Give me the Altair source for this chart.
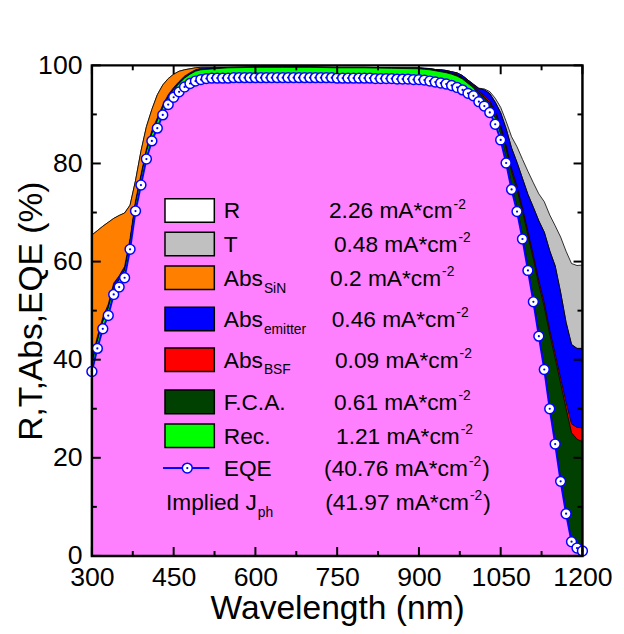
import altair as alt
import pandas as pd

W, H = 497, 497
FONT = "Liberation Sans"

# ---------------- data ----------------
# EQE every 10 nm, 300..1200 nm (%)
wl_eqe = list(range(300, 1201, 10))
eqe = [37.6, 42.3, 46.3, 49.0, 53.3, 54.8, 56.7, 62.5, 70.3, 75.6,
       80.9, 84.6, 87.2, 89.9, 92.0, 93.5, 94.6, 95.6, 96.3, 96.8,
       97.1, 97.3, 97.4, 97.4, 97.4, 97.4, 97.5, 97.5, 97.5, 97.5,
       97.5, 97.5, 97.5, 97.5, 97.5, 97.5, 97.5, 97.5, 97.5, 97.5,
       97.5, 97.5, 97.5, 97.5, 97.5, 97.4, 97.4, 97.4, 97.4, 97.4,
       97.4, 97.4, 97.3, 97.3, 97.3, 97.3, 97.2, 97.2, 97.2, 97.1,
       97.1, 97.0, 96.8, 96.6, 96.4, 96.2, 95.9, 95.5, 95.0, 94.3,
       93.8, 92.6, 91.7, 90.4, 88.0, 84.8, 80.1, 74.7, 70.2, 64.6,
       58.2, 51.8, 44.8, 38.0, 30.0, 22.8, 15.2, 8.6, 2.9, 1.6,
       1.0]

# wavelength grid for the loss components (nm)
wl = list(range(300, 501, 10)) + [550, 600, 650, 700, 750, 800, 850] + list(range(900, 1201, 10))

# loss components (%), stacked on top of EQE in this order
rec = [1.5] * 15 + [1.6, 1.7, 1.8, 1.9, 2.0, 2.0] + [2.1] * 7 + \
      [2.2, 2.2, 2.3, 2.3, 2.3, 2.3, 2.3, 2.3, 2.2, 2.0,
       1.6, 1.4, 1.3, 1.3, 1.2, 1.1, 1.0, 0.9, 0.9, 0.8,
       0.8, 0.7, 0.7, 0.6, 0.6, 0.6, 0.5, 0.5, 0.4, 0.4, 0.3]
fca = [0.0] * 28 + \
      [0.0, 0.0, 0.05, 0.05, 0.1, 0.1, 0.15, 0.2, 0.2, 0.25,
       0.3, 0.4, 0.5, 0.7, 1.0, 1.4, 2.0, 2.8, 3.6, 4.9,
       6.4, 8.0, 9.8, 12.2, 14.6, 16.9, 19.5, 21.0, 21.8, 21.8, 22.0]
bsf = [0.0] * 28 + \
      [0.0, 0.0, 0.0, 0.0, 0.05, 0.05, 0.05, 0.1, 0.1, 0.15,
       0.2, 0.25, 0.3, 0.35, 0.4, 0.45, 0.5, 0.55, 0.6, 0.65,
       0.7, 0.75, 0.8, 0.8, 0.8, 0.9, 1.0, 1.2, 1.8, 2.4, 2.8]
emitter = [1.0, 0.9, 0.8, 0.8, 0.8, 0.8, 0.8, 0.7, 0.6, 0.6, 0.6, 0.6, 0.6, 0.5, 0.5,
           0.4, 0.4, 0.4, 0.3, 0.3, 0.3] + [0.1] * 7 + \
          [0.2, 0.2, 0.2, 0.2, 0.25, 0.3, 0.3, 0.35, 0.4, 0.3,
           0.2, 0.6, 1.2, 1.5, 1.9, 2.6, 3.5, 4.2, 4.9, 6.0,
           7.6, 9.8, 12.2, 14.4, 16.2, 17.9, 17.5, 16.3, 16.2, 16.1, 16.2]
sin = [25.3, 21.6, 18.6, 16.7, 13.2, 12.3, 10.9, 6.8, 4.1, 4.8, 4.5, 4.3, 4.7, 4.1, 3.3,
       2.7, 2.1, 1.3, 0.8, 0.4, 0.2] + [0.0] * 38
trans = [0.0] * 38 + \
        [0.1, 0.1, 0.2, 0.4, 0.8, 1.1, 1.5, 2.3, 3.2, 3.9,
         4.7, 5.0, 5.5, 6.2, 7.3, 8.2, 11.3, 14.5, 16.5, 16.9, 17.0]

# legend
leg_names = ["R", "T", "Abs", "Abs", "Abs", "F.C.A.", "Rec.", "EQE", "Implied J"]
leg_subs = ["", "", "SiN", "emitter", "BSF", "", "", "", "ph"]
leg_values = ["2.26 mA*cm", "0.48 mA*cm", "0.2 mA*cm", "0.46 mA*cm", "0.09 mA*cm",
              "0.61 mA*cm", "1.21 mA*cm", "(40.76 mA*cm", "(41.97 mA*cm"]
leg_close = ["", "", "", "", "", "", "", ")", ")"]
leg_fill = ["#FFFFFF", "#C0C0C0", "#FF8000", "#0000FF", "#FF0000", "#004000", "#00FF00", None, None]
leg_y = [70.4, 63.6, 56.7, 48.3, 40.0, 31.4, 24.5, 17.9, 10.9]
leg_value_x = [735, 744, 737, 740, 746, 744, 748, 726, 728]

# ---------------- build tables ----------------
eqe_map = dict(zip(wl_eqe, eqe))
df = pd.DataFrame({"wl": wl})
df["c0"] = [eqe_map[w] for w in wl]
df["c1"] = df["c0"] + rec
df["c2"] = df["c1"] + fca
df["c3"] = df["c2"] + bsf
df["c4"] = df["c3"] + emitter
df["c5"] = df["c4"] + sin
df["c6"] = df["c5"] + trans
df_eqe = pd.DataFrame({"wl": wl_eqe, "eqe": eqe})

xs = alt.Scale(domain=[300, 1200], nice=False, zero=False)
ys = alt.Scale(domain=[0, 100], nice=False, zero=False)

x_axis = alt.Axis(values=list(range(300, 1201, 150)), title="Wavelength (nm)", grid=False,
                  domain=False, ticks=False, labelPadding=9, labelFlush=False, labelOverlap=False,
                  titleX=W / 2, titleY=63, titleBaseline="alphabetic", titleAlign="center", format="d")
y_axis = alt.Axis(values=list(range(0, 101, 20)), title="R,T,Abs,EQE (%)", grid=False,
                  domain=False, ticks=False, labelPadding=10, labelFlush=False, labelOverlap=False,
                  titleX=-51, titleY=H / 2, titleBaseline="alphabetic", titleAlign="center", format="d")


def X(field):
    return alt.X(field, scale=xs, axis=x_axis)


def Y(field):
    return alt.Y(field, scale=ys, axis=y_axis)


layers = []
area_specs = [("c6", "#C0C0C0"), ("c5", "#FF8000"), ("c4", "#0000FF"), ("c3", "#FF0000"),
              ("c2", "#004000"), ("c1", "#00FF00")]
for col, colr in area_specs:
    layers.append(alt.Chart(df).mark_area(fill=colr, stroke="black", strokeWidth=0.8, opacity=1).encode(
        x=X("wl:Q"), y=Y(f"{col}:Q")))
layers.append(alt.Chart(df).mark_area(fill="#FF80FF", opacity=1).encode(x=X("wl:Q"), y=Y("c0:Q")))

# EQE line + markers
layers.append(alt.Chart(df_eqe).mark_line(color="#0000FF", strokeWidth=2).encode(x=X("wl:Q"), y=Y("eqe:Q")))
layers.append(alt.Chart(df_eqe).mark_point(shape="circle", filled=True, fill="white", stroke="#0000FF",
                                           strokeWidth=1.5, size=100, opacity=1).encode(x=X("wl:Q"), y=Y("eqe:Q")))
layers.append(alt.Chart(df_eqe).mark_point(shape="circle", filled=True, color="#0000FF", size=5,
                                           opacity=1).encode(x=X("wl:Q"), y=Y("eqe:Q")))

# ---------------- legend ----------------
AW = {'.': .278, ' ': .278, 'm': .833, 'A': .667, '*': .389, 'c': .5, '(': .333, ')': .333,
      '-': .333, 'b': .556, 's': .5, 'I': .278, 'p': .556, 'l': .222, 'i': .222, 'e': .556,
      'd': .556, 'J': .5}


def tw(s, fs):
    return sum(AW.get(ch, 0.556) for ch in s) * fs


def px2nm(p):
    return p * 900.0 / W


FS, FSS = 23, 14
SW_X1, SW_X2, NAME_X, IMPL_X = 434.1, 524.6, 542.0, 436.0
main_rows, sub_rows, sup_rows, sw_rows = [], [], [], []
for i in range(len(leg_names)):
    y = leg_y[i]
    nx = IMPL_X if leg_names[i].startswith("Implied") else NAME_X
    main_rows.append({"x": nx, "y": y, "t": leg_names[i]})
    if leg_subs[i]:
        sub_rows.append({"x": nx + px2nm(tw(leg_names[i], FS) + 1), "y": y, "t": leg_subs[i]})
    vx = leg_value_x[i]
    main_rows.append({"x": vx, "y": y, "t": leg_values[i]})
    sx = vx + px2nm(tw(leg_values[i], FS) + 1)
    sup_rows.append({"x": sx, "y": y, "t": "-2"})
    if leg_close[i]:
        main_rows.append({"x": sx + px2nm(tw("-2", FSS) + 1), "y": y, "t": leg_close[i]})
    if leg_fill[i]:
        sw_rows.append({"x": SW_X1, "x2": SW_X2, "y": y + 2.4, "y2": y - 2.4, "f": leg_fill[i]})

layers.append(alt.Chart(pd.DataFrame(sw_rows)).mark_rect(stroke="black", strokeWidth=1.5, opacity=1).encode(
    x=X("x:Q"), x2="x2:Q", y=Y("y:Q"), y2="y2:Q", fill=alt.Fill("f:N", scale=None)))

eqe_leg_line = pd.DataFrame({"x": [430.4, 515.5], "y": [leg_y[7], leg_y[7]]})
eqe_leg_pt = pd.DataFrame({"x": [475.0], "y": [leg_y[7]]})
layers.append(alt.Chart(eqe_leg_line).mark_line(color="#0000FF", strokeWidth=2).encode(x=X("x:Q"), y=Y("y:Q")))
layers.append(alt.Chart(eqe_leg_pt).mark_point(shape="circle", filled=True, fill="white", stroke="#0000FF",
                                               strokeWidth=1.5, size=100, opacity=1).encode(x=X("x:Q"), y=Y("y:Q")))
layers.append(alt.Chart(eqe_leg_pt).mark_point(shape="circle", filled=True, color="#0000FF", size=5,
                                               opacity=1).encode(x=X("x:Q"), y=Y("y:Q")))

for rows, fs, dy in [(main_rows, FS, 8), (sub_rows, FSS, 15), (sup_rows, FSS, -2)]:
    layers.append(alt.Chart(pd.DataFrame(rows)).mark_text(
        align="left", baseline="alphabetic", font=FONT, fontSize=fs, dy=dy, color="black").encode(
        x=X("x:Q"), y=Y("y:Q"), text="t:N"))

# ---------------- inward ticks and frame ----------------
xt_major = pd.DataFrame({"v": list(range(300, 1201, 150))})
xt_minor = pd.DataFrame({"v": list(range(375, 1200, 150))})
yt_major = pd.DataFrame({"v": list(range(0, 101, 20))})
yt_minor = pd.DataFrame({"v": list(range(10, 100, 20))})
for d, ln in [(xt_major, 9), (xt_minor, 5)]:
    for y0, y1 in [(H, H - ln), (0, ln)]:
        layers.append(alt.Chart(d).mark_rule(color="black", strokeWidth=2).encode(
            x=X("v:Q"), y=alt.value(y0), y2=alt.value(y1)))
for d, ln in [(yt_major, 9), (yt_minor, 5)]:
    for x0, x1 in [(0, ln), (W, W - ln)]:
        layers.append(alt.Chart(d).mark_rule(color="black", strokeWidth=2).encode(
            y=Y("v:Q"), x=alt.value(x0), x2=alt.value(x1)))
layers.append(alt.Chart(pd.DataFrame({"a": [0]})).mark_rect(
    fillOpacity=0, stroke="black", strokeWidth=2.5).encode(
    x=alt.value(0), x2=alt.value(W), y=alt.value(0), y2=alt.value(H)))

chart = alt.layer(*layers).properties(
    width=W, height=H,
    padding={"left": 85, "top": 54, "right": 34, "bottom": 75},
    autosize=alt.AutoSizeParams(type="none"),
    background="white",
).configure_view(stroke="transparent").configure_axis(
    labelFont=FONT, labelFontSize=27, labelColor="black",
    titleFont=FONT, titleFontSize=34, titleFontWeight="normal", titleColor="black",
)

chart.save("out.html", embed_options={"renderer": "svg", "actions": False})
